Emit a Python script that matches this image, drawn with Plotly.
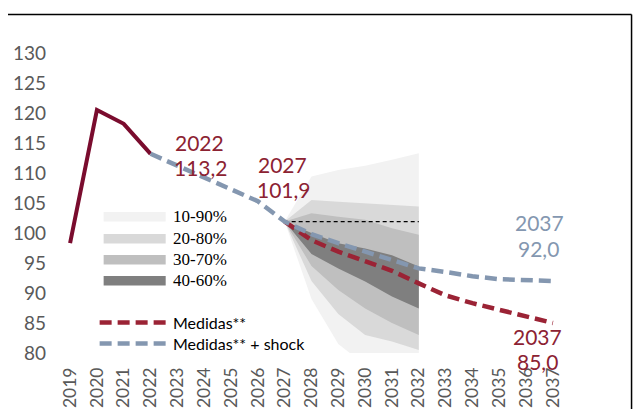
import plotly.graph_objects as go

# ---------------- data ----------------
years = list(range(2019, 2038))

hist_years = [2019, 2020, 2021, 2022]
hist_vals = [98.3, 120.5, 118.2, 113.2]

shock_years = list(range(2022, 2038))
shock_vals = [113.2, 111.2, 109.2, 107.3, 105.3, 101.9, 99.8, 98.3, 96.9, 95.5, 94.1,
              93.5, 92.8, 92.3, 92.1, 92.0]

med_years = list(range(2027, 2038))
med_vals = [101.9, 98.8, 96.9, 95.2, 93.7, 91.6, 89.6, 88.3, 87.2, 86.1, 85.0]

fan_years = [2027, 2028, 2029, 2030, 2031, 2032]
p10 = [101.9, 89.0, 81.5, 78.0, 75.5, 73.0]
p90 = [101.9, 109.4, 110.5, 111.2, 112.2, 113.3]
p20 = [101.9, 92.0, 86.5, 83.0, 81.9, 80.5]
p80 = [101.9, 105.5, 105.2, 104.9, 104.7, 104.4]
p30 = [101.9, 94.5, 90.5, 87.4, 85.0, 83.0]
p70 = [101.9, 103.3, 102.7, 102.2, 100.8, 99.7]
p40 = [101.9, 96.5, 94.1, 91.9, 89.4, 87.4]
p60 = [101.9, 100.0, 98.3, 97.4, 96.3, 94.4]

base_years = [2027, 2032]
base_vals = [101.9, 101.9]

band_labels = ["10-90%", "20-80%", "30-70%", "40-60%"]
band_colors = ["#f2f2f2", "#d9d9d9", "#bfbfbf", "#7f7f7f"]
bands = [(p10, p90), (p20, p80), (p30, p70), (p40, p60)]

y_ticks = [80, 85, 90, 95, 100, 105, 110, 115, 120, 125, 130]

RED_TXT = "#8c2232"
RED_LINE = "#9b2335"
RED_HIST = "#7a0c2e"
BLUE = "#8497b0"
GRAY = "#595959"

# ---------------- geometry (window pixels; page body has an 8px margin) ----------------
OFF = 8
W, H = 641 - 2 * OFF, 417 - 2 * OFF
L, R, T, B = 54.4, 569.0, 41.0, 353.0  # window pixel positions of plot area
XR = [2018.4, 2037.6]
YR = [80, 132]


def px(xp):
    return (xp - L) / (R - L)


def py(yp):
    return (B - yp) / (B - T)


fig = go.Figure()

for (lo, hi), col in zip(bands, band_colors):
    fig.add_trace(go.Scatter(
        x=fan_years + fan_years[::-1], y=hi + lo[::-1],
        fill="toself", fillcolor=col, line=dict(width=0, color=col),
        mode="lines", hoverinfo="skip", showlegend=False))

fig.add_trace(go.Scatter(x=base_years, y=base_vals, mode="lines",
                         line=dict(color="black", width=1.3, dash="4px,3px"),
                         showlegend=False))

fig.add_trace(go.Scatter(x=hist_years, y=hist_vals, mode="lines",
                         line=dict(color=RED_HIST, width=4), showlegend=False))

fig.add_trace(go.Scatter(x=med_years, y=med_vals, mode="lines",
                         line=dict(color=RED_LINE, width=4.5, dash="12px,6px"),
                         showlegend=False))

fig.add_trace(go.Scatter(x=shock_years, y=shock_vals, mode="lines",
                         line=dict(color=BLUE, width=4.5, dash="12px,6px"),
                         showlegend=False))

shapes = []
annotations = []

# legend boxes
box_tops = [212, 234, 255, 276]
for top, col, lab in zip(box_tops, band_colors, band_labels):
    shapes.append(dict(type="rect", xref="paper", yref="paper",
                       x0=px(104), x1=px(166), y0=py(top + 9.5), y1=py(top),
                       fillcolor=col, line=dict(width=0), layer="above"))
    annotations.append(dict(xref="paper", yref="paper", x=px(171), y=py(top + 4.8),
                            text=lab, showarrow=False, xanchor="left", yanchor="middle",
                            font=dict(family="Liberation Serif", size=17, color="black")))

for yy, col, lab in [(322.5, RED_LINE, "Medidas**"), (343.5, BLUE, "Medidas** + shock")]:
    shapes.append(dict(type="line", xref="paper", yref="paper",
                       x0=px(100), x1=px(166), y0=py(yy), y1=py(yy),
                       line=dict(color=col, width=4.5, dash="12px,6px"), layer="above"))
    annotations.append(dict(xref="paper", yref="paper", x=px(171), y=py(yy),
                            text=lab, showarrow=False, xanchor="left", yanchor="middle",
                            font=dict(family="Lato", size=16, color="black")))

# frame
FR = OFF + W - 1.5
shapes.append(dict(type="line", xref="paper", yref="paper",
                   x0=px(OFF), x1=px(FR), y0=py(14.5), y1=py(14.5),
                   line=dict(color="black", width=1.5)))
shapes.append(dict(type="line", xref="paper", yref="paper",
                   x0=px(FR), x1=px(FR), y0=py(14.5), y1=py(OFF + H),
                   line=dict(color="black", width=1.5)))

# value labels
labels = [
    ("2022", 200, 142, RED_TXT), ("113,2", 201, 167, RED_TXT),
    ("2027", 283, 164, RED_TXT), ("101,9", 284, 189, RED_TXT),
    ("2037", 540, 223, BLUE), ("92,0", 539, 248, BLUE),
    ("2037", 538, 336, RED_TXT), ("85,0", 538, 361, RED_TXT),
]
for txt, xx, yy, col in labels:
    annotations.append(dict(xref="paper", yref="paper", x=px(xx), y=py(yy),
                            text=txt, showarrow=False, xanchor="center", yanchor="middle",
                            font=dict(family="Lato", size=21, color=col)))

fig.update_layout(
    width=W, height=H, autosize=False,
    margin=dict(l=L - OFF, r=(W + OFF) - R, t=T - OFF, b=(H + OFF) - B, pad=0,
                autoexpand=False),
    paper_bgcolor="white", plot_bgcolor="white",
    showlegend=False,
    shapes=shapes, annotations=annotations,
    xaxis=dict(range=XR, tickvals=years, ticktext=[str(y) for y in years],
               tickangle=-90, showgrid=False, zeroline=False, showline=False,
               ticks="", ticklabelstandoff=10, automargin=False,
               tickfont=dict(family="Lato", size=17.5, color=GRAY)),
    yaxis=dict(range=YR, tickvals=y_ticks, ticktext=[str(v) for v in y_ticks],
               showgrid=False, zeroline=False, showline=False,
               ticks="", ticklabelstandoff=7, automargin=False,
               tickfont=dict(family="Lato", size=19, color=GRAY)),
)

fig.write_html("out.html")
